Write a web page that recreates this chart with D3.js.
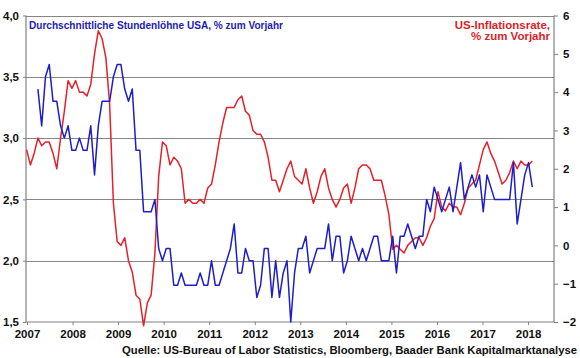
<!DOCTYPE html>
<html><head><meta charset="utf-8">
<script src="https://cdn.jsdelivr.net/npm/d3@7"></script>
<style>html,body{margin:0;padding:0;background:#fff;}svg{display:block;font-family:"Liberation Sans",Arial,sans-serif;}</style>
</head><body><svg id="c" width="580" height="358"></svg>
<script>
// Monthly data. CPI starts Dec 2006 (month index 0); wages start Mar 2007 (month index 3)
const cpiStartIndex = 0;
const cpi = [2.5,
 2.1,2.4,2.8,2.6,2.7,2.7,2.4,2.0,2.8,3.5,4.3,4.1,
 4.3,4.0,4.0,3.9,4.2,5.0,5.6,5.4,4.9,3.7,1.1,0.1,
 0.0,0.2,-0.4,-0.7,-1.3,-1.4,-2.1,-1.5,-1.3,-0.2,1.8,2.7,
 2.6,2.1,2.3,2.2,2.0,1.1,1.2,1.1,1.1,1.2,1.1,1.5,
 1.6,2.1,2.7,3.2,3.6,3.6,3.6,3.8,3.9,3.5,3.4,3.0,
 2.9,2.9,2.7,2.3,1.7,1.7,1.4,1.7,2.0,2.2,1.8,1.7,
 1.6,2.0,1.5,1.1,1.4,1.8,2.0,1.5,1.2,1.0,1.2,1.5,
 1.6,1.1,1.5,2.0,2.1,2.1,2.0,1.7,1.7,1.7,1.3,0.8,
 -0.1,0.0,-0.1,-0.2,0.0,0.1,0.2,0.2,0.0,0.2,0.5,0.7,
 1.4,1.0,0.9,1.1,1.0,1.0,0.8,1.1,1.5,1.6,1.7,2.1,
 2.5,2.7,2.4,2.2,1.9,1.6,1.7,1.9,2.2,2.0,2.2,2.1,
 2.1,2.2];
const wageStartIndex = 3;
const wages = [3.4,3.1,3.5,3.6,3.3,3.3,3.1,3.0,3.1,2.9,
 2.9,3.0,2.9,2.9,3.1,2.7,3.1,3.3,3.3,3.3,3.5,3.6,3.6,
 3.4,3.3,3.4,2.9,2.9,2.4,2.4,2.4,2.5,2.1,2.0,
 2.1,2.1,1.8,1.8,1.9,1.8,1.8,1.8,1.8,1.9,1.8,1.8,
 2.0,1.8,1.8,1.9,2.0,2.1,2.3,1.9,1.9,2.1,2.0,2.0,
 1.7,1.8,2.1,2.1,1.7,2.0,1.7,1.9,2.0,1.5,1.9,2.1,
 2.1,2.2,1.9,2.0,2.1,2.1,2.1,2.3,2.0,2.2,2.2,1.9,
 2.0,2.2,2.1,2.0,2.1,2.0,2.1,2.2,2.2,2.0,2.0,2.0,
 2.2,1.9,2.2,2.2,2.3,2.2,2.1,2.2,2.2,2.5,2.4,2.6,
 2.5,2.4,2.5,2.6,2.4,2.6,2.8,2.5,2.6,2.7,2.6,2.7,
 2.4,2.7,2.6,2.5,2.5,2.5,2.5,2.5,2.8,2.3,2.5,2.7,
 2.8,2.6];
const years = [2007,2008,2009,2010,2011,2012,2013,2014,2015,2016,2017,2018];
const leftTicks = [1.5,2.0,2.5,3.0,3.5,4.0];
const rightTicks = [-2,-1,0,1,2,3,4,5,6];
const titleLeft = "Durchschnittliche Stundenlöhne USA, % zum Vorjahr";
const titleRight = ["US-Inflationsrate,", "% zum Vorjahr"];
const source = "Quelle: US-Bureau of Labor Statistics, Bloomberg, Baader Bank Kapitalmarktanalyse";

const L = 26, R = 554, T = 15.5, B = 322;
const svg = d3.select("#c");
const xm = d3.scaleLinear().domain([0, 139.75]).range([26.6, R]);
const xy = d3.scaleLinear().domain([2006.978, 2018.57]).range([L, R]);
const yl = d3.scaleLinear().domain([1.5, 4.0]).range([B, T]);
const yr = d3.scaleLinear().domain([-2, 6]).range([B, T]);
const grid = "#858585", axisC = "#808080";
const blue = "#1e1ec8", red = "#e4212b";

// gridlines
svg.append("g").selectAll("line").data(leftTicks.filter(d => d > 1.5)).join("line")
  .attr("x1", L).attr("x2", R).attr("y1", d => Math.round(yl(d)) + 0.5).attr("y2", d => Math.round(yl(d)) + 0.5)
  .attr("stroke", grid).attr("stroke-width", 1.2);

// left axis
const ga = svg.append("g").attr("transform", `translate(${L},0)`)
  .call(d3.axisLeft(yl).tickValues(leftTicks).tickSize(3).tickPadding(4).tickFormat(d => d3.format(".1f")(d).replace(".", ",")));
// right axis
const gr = svg.append("g").attr("transform", `translate(${R},0)`)
  .call(d3.axisRight(yr).tickValues(rightTicks).tickSize(4).tickPadding(5).tickFormat(d3.format("d")));
// bottom axis
const gb = svg.append("g").attr("transform", `translate(0,${B})`)
  .call(d3.axisBottom(xy).tickValues(years).tickSize(3).tickPadding(4).tickFormat(d3.format("d")));
[ga, gr, gb].forEach(g => {
  g.select(".domain").attr("stroke", axisC).attr("stroke-width", 1.2);
  g.selectAll(".tick line").attr("stroke", axisC);
  g.selectAll("text").attr("fill", "#111").attr("font-weight", "bold").attr("font-size", 11.5)
   .attr("font-family", '"Liberation Sans",Arial,sans-serif');
});
ga.select(".domain").attr("d", `M0,${T}V${B}`);
gr.select(".domain").attr("d", `M0,${T}V${B}`);
gb.select(".domain").attr("d", `M${L},0H${R}`);
gr.selectAll(".tick text").attr("x", 9);
gb.selectAll(".tick text").attr("dy", "0.75em");

// lines
const lineC = d3.line().x(d => xm(d.i)).y(d => yr(d.v));
const lineW = d3.line().x(d => xm(d.i)).y(d => yl(d.v));
svg.append("path").datum(cpi.map((v, k) => ({i: cpiStartIndex + k, v})))
  .attr("d", lineC).attr("fill", "none").attr("stroke", red).attr("stroke-width", 1.5).attr("stroke-linejoin", "round");
svg.append("path").datum(wages.map((v, k) => ({i: wageStartIndex + k, v})))
  .attr("d", lineW).attr("fill", "none").attr("stroke", blue).attr("stroke-width", 1.5).attr("stroke-linejoin", "round");

// titles
svg.append("text").attr("x", 29).attr("y", 28.5).attr("fill", "#1c1cb4").attr("font-weight", "bold")
  .attr("font-size", 11.5).attr("textLength", 254).attr("lengthAdjust", "spacingAndGlyphs").text(titleLeft);
svg.append("text").attr("x", 550).attr("y", 28.5).attr("fill", "#dc1e28").attr("font-weight", "bold")
  .attr("font-size", 11.5).attr("text-anchor", "end").text(titleRight[0]);
svg.append("text").attr("x", 550).attr("y", 39.5).attr("fill", "#dc1e28").attr("font-weight", "bold")
  .attr("font-size", 11.5).attr("text-anchor", "end").text(titleRight[1]);
// source
svg.append("text").attr("x", 577).attr("y", 353.5).attr("fill", "#111").attr("font-weight", "bold")
  .attr("font-size", 11).attr("text-anchor", "end").attr("textLength", 455).attr("lengthAdjust", "spacingAndGlyphs").text(source);
</script></body></html>
